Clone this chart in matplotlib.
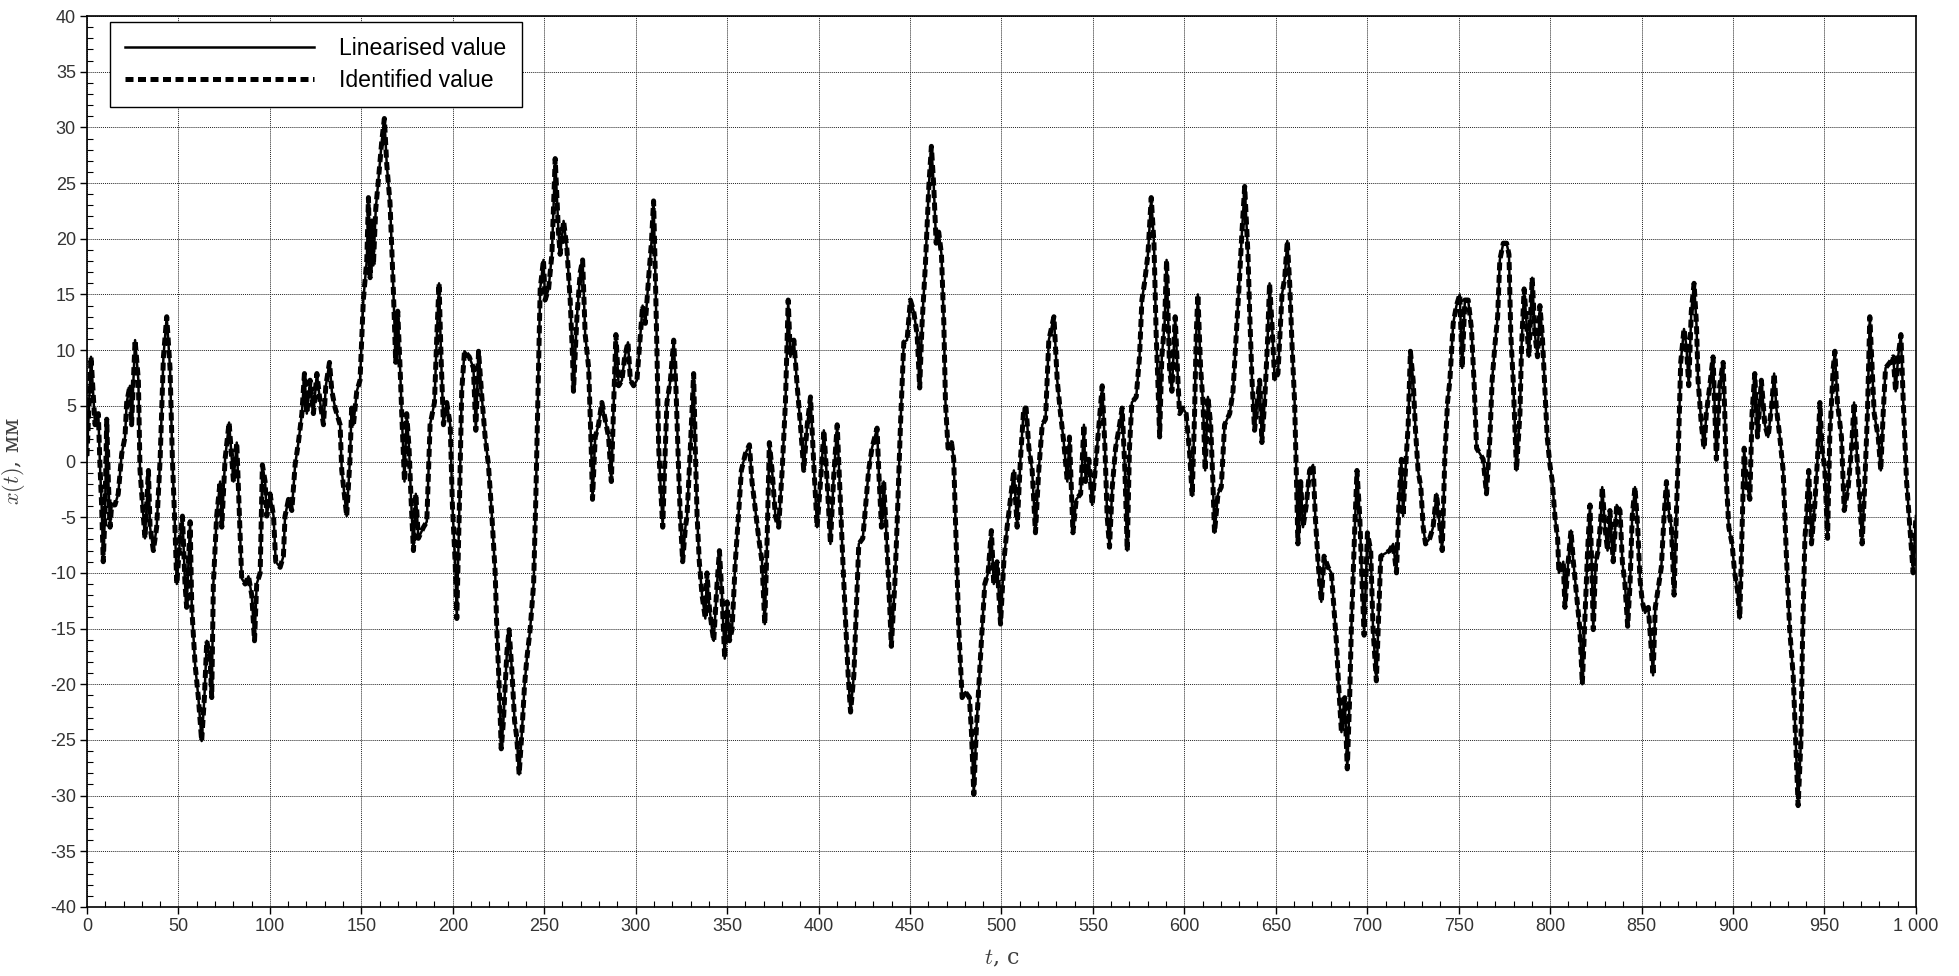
import matplotlib
matplotlib.use('Agg')
import matplotlib.pyplot as plt
import numpy as np
from matplotlib.ticker import MultipleLocator

# time, s  (turning points of the trace)
t = [
    # 0 .. 140
    0, 2.2, 4.4, 6.2, 7.1, 8.0, 8.9, 9.8, 10.8, 11.7,
    12.6, 13.5, 15.3, 17.1, 19.0, 20.8, 21.7, 23.5, 24.4, 26.3,
    28.1, 29.0, 30.8, 31.7, 33.6, 34.5, 36.3, 38.1, 40.0, 41.8,
    43.6, 45.4, 46.7, 48.1, 49.1, 50.9, 52.2, 53.6, 54.5, 56.4,
    57.3, 59.1, 60.9, 62.7, 64.2, 65.5, 67.3, 68.2, 69.1, 70.9,
    72.8, 73.7, 75.5, 77.7, 79.2, 80.1, 81.9, 82.8, 84.6, 86.5,
    88.3, 90.1, 91.6, 92.8, 94.7, 95.9, 97.4, 98.3, 100.1, 102.0,
    103.2, 105.6, 107.4, 108.3, 110.2, 112.0, 113.8, 115.6, 117.5, 118.9,
    120.2, 122.0, 123.8, 125.7, 127.5, 129.3, 130.6, 132.6, 133.9, 135.7,
    138.4, 139.3,
    # 140 .. 282
    142.0, 143.8, 144.7, 145.7, 147.5, 149.3, 151.1, 153.0, 153.9, 154.8,
    155.7, 156.6, 157.9, 159.3, 161.2, 162.6, 163.9, 165.7, 167.5, 168.8,
    169.9, 171.2, 172.1, 173.6, 174.8, 176.1, 177.2, 178.5, 179.8, 181.2,
    184.0, 185.8, 187.6, 190.0, 191.3, 192.5, 193.6, 194.9, 196.7, 198.6,
    199.8, 201.3, 202.2, 203.5, 204.9, 206.4, 209.0, 211.3, 212.6, 214.1,
    215.9, 217.7, 219.5, 221.4, 223.2, 224.1, 225.4, 226.5, 227.7, 229.6,
    230.8, 232.3, 233.8, 235.0, 236.3, 237.8, 239.2, 240.5, 242.3, 244.2,
    245.4, 246.5, 247.8, 249.6, 250.5, 252.4, 254.2, 256.0, 257.8, 258.7,
    260.6, 262.4, 264.2, 265.5, 266.0, 267.9, 269.7, 271.0, 272.4, 274.3,
    275.7, 276.4, 277.9, 279.7, 281.5,
    # 282 .. 425
    285.2, 286.7, 288.0, 289.2, 290.7, 292.5, 294.0, 295.8, 297.1, 298.9,
    300.7, 302.6, 303.8, 305.3, 307.1, 308.6, 309.8, 310.8, 311.7, 312.6,
    313.5, 314.8, 315.9, 317.1, 319.0, 320.8, 322.1, 323.5, 324.4, 325.7,
    327.2, 328.1, 329.9, 331.7, 332.6, 333.6, 334.8, 336.3, 338.1, 339.0,
    340.3, 341.8, 342.7, 344.5, 345.8, 347.2, 348.7, 350.0, 351.3, 352.7,
    354.5, 356.4, 357.8, 360.0, 362.2, 363.6, 365.5, 367.3, 369.1, 370.6,
    371.9, 373.1, 374.6, 376.4, 378.2, 380.1, 381.9, 383.4, 384.6, 386.5,
    388.3, 390.1, 391.9, 393.8, 395.6, 397.4, 399.2, 401.1, 402.9, 404.7,
    406.5, 408.3, 410.2, 412.0, 413.3, 414.7, 416.2, 417.5, 419.3, 420.6,
    422.0, 424.2,
    # 425 .. 568
    427.4, 429.2, 432.0, 432.9, 434.4, 435.6, 436.9, 438.4, 439.8, 441.7,
    442.9, 444.8, 446.6, 448.4, 450.2, 452.0, 453.9, 455.3, 456.6, 458.4,
    460.3, 461.7, 463.0, 464.3, 465.7, 467.2, 468.5, 469.4, 470.8, 472.7,
    473.9, 474.8, 476.7, 478.5, 480.3, 482.5, 483.6, 484.9, 486.2, 487.6,
    489.4, 490.9, 492.7, 494.5, 495.8, 497.6, 499.5, 501.3, 503.1, 504.9,
    506.8, 508.6, 510.4, 512.2, 513.5, 515.0, 516.8, 518.6, 520.4, 522.3,
    524.1, 525.9, 528.7, 530.5, 532.3, 534.1, 536.0, 537.2, 539.1, 540.9,
    543.3, 545.1, 546.0, 547.8, 549.6, 551.5, 553.3, 555.1, 556.6, 557.8,
    559.1, 560.6, 562.4, 564.6, 566.0, 567.5,
    # 568 .. 708
    568.8, 570.0, 571.3, 573.7, 575.5, 576.8, 578.2, 580.1, 581.9, 583.4,
    584.6, 585.5, 586.5, 587.7, 589.2, 590.3, 591.9, 593.2, 595.0, 596.5,
    597.4, 599.2, 601.0, 602.9, 604.3, 605.6, 606.5, 607.4, 608.9, 610.2,
    611.4, 612.9, 614.4, 615.6, 616.5, 618.4, 620.2, 622.0, 624.8, 626.6,
    628.4, 630.2, 631.5, 633.0, 634.8, 635.7, 637.0, 638.4, 639.9, 641.2,
    642.4, 643.9, 645.4, 646.6, 647.9, 649.4, 651.2, 653.4, 654.9, 656.3,
    657.6, 658.9, 660.3, 661.2, 662.1, 663.6, 664.9, 666.7, 668.5, 670.4,
    671.6, 673.1, 674.9, 676.4, 678.6, 680.4, 681.8, 683.1, 684.4, 685.9,
    687.7, 689.1, 690.4, 691.3, 693.2, 694.4, 695.9, 697.2, 698.3, 700.1,
    701.9, 703.2, 705.0, 706.3, 707.4,
    # 708 .. 854
    712.3, 714.2, 716.0, 717.3, 718.7, 719.6, 720.9, 722.4, 723.6, 725.1,
    726.4, 727.8, 729.3, 730.6, 731.9, 734.2, 736.0, 737.9, 739.1, 741.0,
    742.4, 743.9, 745.2, 747.0, 748.8, 750.6, 751.9, 753.4, 755.2, 757.0,
    758.5, 759.8, 761.6, 763.4, 765.2, 767.1, 768.3, 769.8, 771.3, 772.5,
    774.4, 776.2, 777.5, 778.5, 779.8, 780.7, 781.6, 783.5, 784.4, 785.8,
    787.1, 788.4, 790.2, 791.7, 793.1, 794.4, 795.7, 797.2, 798.4, 799.9,
    801.2, 802.6, 804.1, 804.8, 807.2, 808.1, 809.9, 811.4, 812.7, 814.5,
    816.3, 817.6, 819.0, 820.5, 821.8, 822.7, 823.6, 824.9, 826.3, 827.8,
    828.5, 830.0, 831.4, 832.7, 834.5, 836.4, 838.2, 839.5, 840.9, 842.4,
    843.7, 844.9, 846.4, 847.9, 849.1, 850.4, 851.9, 853.7,
    # 854 .. 1000
    856.3, 857.5, 859.0, 860.8, 862.3, 863.6, 864.8, 866.3, 867.8, 869.0,
    869.9, 871.4, 873.2, 874.5, 875.8, 877.2, 878.7, 880.0, 880.9, 882.7,
    884.2, 885.4, 887.3, 889.1, 890.9, 892.7, 894.6, 895.5, 896.4, 897.7,
    899.5, 900.9, 902.4, 903.7, 905.0, 906.1, 907.3, 909.2, 910.4, 911.9,
    913.4, 915.5, 917.4, 919.2, 921.0, 922.5, 923.7, 925.6, 927.4, 929.2,
    931.0, 932.9, 934.1, 935.6, 937.1, 938.0, 939.3, 940.2, 941.4, 942.9,
    944.7, 946.2, 947.5, 948.7, 950.2, 951.7, 952.9, 954.8, 955.7, 957.1,
    959.3, 960.8, 963.0, 964.8, 966.2, 967.5, 969.3, 970.6, 972.1, 973.5,
    974.8, 976.1, 977.2, 979.4, 980.8, 982.1, 983.4, 985.8, 987.6, 988.9,
    990.3, 991.8, 993.1, 994.9, 996.7, 998.5, 1000.0,
]

# x(t), mm - linearised model
x_lin = [
    0.5, 9.4, 3.3, 4.3, -0.3, -3.9, -9.0, -4.9, 3.8, -1.8,
    -5.9, -3.9, -3.9, -2.9, 0.7, 2.2, 5.3, 6.8, 3.3, 10.9,
    7.3, -0.8, -4.9, -6.9, -0.8, -5.9, -8.0, -5.9, 0.2, 9.4,
    13.0, 8.4, 0.2, -5.9, -11.0, -6.9, -4.9, -11.0, -13.1, -5.4,
    -13.1, -18.2, -21.2, -25.1, -21.2, -16.1, -17.7, -21.2, -11.0, -4.9,
    -1.8, -5.9, 0.2, 3.5, 0.2, -1.8, 1.7, -2.3, -10.5, -11.0,
    -10.3, -12.0, -16.1, -11.0, -10.0, -0.3, -1.8, -4.9, -2.9, -4.9,
    -9.0, -9.5, -8.5, -4.9, -3.4, -4.4, -0.3, 1.7, 4.3, 7.9,
    4.3, 7.3, 4.3, 7.9, 5.3, 3.3, 6.8, 8.9, 6.3, 4.8,
    3.3, -0.8,

    -4.9, 0.2, 4.8, 3.3, 6.3, 7.3, 14.5, 18.1, 23.7, 16.5,
    21.6, 17.6, 22.7, 25.2, 28.8, 30.8, 26.7, 23.2, 15.5, 8.9,
    13.5, 8.4, 4.3, -1.8, 4.3, 1.2, -3.4, -8.0, -2.9, -6.9,
    -5.9, -5.4, 3.3, 5.3, 11.4, 16.0, 9.4, 3.3, 5.3, 3.3,
    -3.9, -9.0, -14.1, -4.9, 6.3, 9.9, 9.4, 8.4, 2.8, 9.9,
    5.8, 2.2, -0.3, -4.9, -10.0, -15.1, -20.2, -25.8, -23.3, -17.1,
    -15.1, -18.7, -23.3, -24.8, -28.1, -24.3, -20.2, -17.7, -15.1, -11.0,
    -3.4, 5.3, 15.5, 18.1, 14.5, 15.5, 18.6, 27.2, 20.6, 18.6,
    21.6, 19.1, 14.5, 9.4, 6.3, 13.0, 17.0, 18.1, 11.4, 8.4,
    1.2, -3.4, 2.2, 3.3, 5.3,

    2.2, -1.8, 5.3, 11.4, 6.8, 7.3, 9.4, 10.7, 7.3, 6.8,
    7.3, 11.4, 14.0, 12.4, 16.5, 19.6, 23.4, 16.5, 9.4, 1.2,
    -1.8, -5.9, -0.3, 5.3, 7.3, 10.9, 6.3, -0.8, -4.9, -9.0,
    -5.9, -4.9, 1.2, 7.9, 1.2, -4.9, -9.0, -12.0, -14.1, -10.0,
    -13.1, -15.1, -16.1, -11.0, -8.0, -12.0, -17.7, -12.6, -16.1, -15.1,
    -9.0, -4.4, -0.8, 0.7, 1.5, -1.8, -4.4, -6.9, -9.0, -14.6,
    -6.9, 1.7, -0.8, -4.9, -5.9, -0.8, 5.3, 14.5, 9.4, 10.9,
    6.8, 3.3, -0.8, 3.3, 5.8, -0.3, -5.9, -1.8, 2.8, -1.8,
    -7.4, -1.3, 3.3, -3.9, -9.0, -14.1, -19.2, -22.5, -19.2, -13.6,
    -7.4, -6.9,

    -0.8, 1.2, 3.0, -0.8, -5.9, -1.8, -5.9, -11.0, -16.6, -11.0,
    -5.9, 3.3, 10.7, 10.9, 14.5, 13.5, 11.4, 6.6, 12.4, 17.6,
    24.7, 28.3, 24.7, 19.6, 20.6, 18.6, 12.4, 5.3, 1.2, 1.7,
    0.2, -4.9, -15.1, -21.2, -20.7, -21.2, -24.3, -29.9, -24.3, -20.2,
    -15.1, -11.0, -10.0, -6.2, -11.0, -9.0, -14.6, -9.0, -5.9, -3.4,
    -0.8, -5.9, 0.2, 4.8, 4.8, 1.2, -0.8, -6.4, -0.8, 3.3,
    3.8, 10.9, 13.0, 7.3, 4.3, 1.7, -1.8, 2.2, -6.4, -3.4,
    -2.9, 3.3, -1.8, 0.2, -3.9, -0.3, 3.3, 6.8, 1.2, -4.9,
    -7.7, -2.3, 1.2, 3.3, 4.8, -0.8,

    -8.0, 1.2, 5.3, 5.8, 9.4, 14.5, 16.0, 18.6, 23.7, 19.6,
    11.4, 7.3, 2.2, 9.4, 12.4, 18.1, 8.4, 6.3, 13.0, 7.3,
    4.3, 4.8, 4.3, 0.7, -3.1, 4.3, 11.4, 15.0, 8.4, 5.3,
    -0.8, 5.8, 3.3, -1.8, -6.4, -2.9, -2.3, 3.3, 4.3, 6.3,
    11.4, 16.5, 20.6, 24.7, 18.6, 13.5, 7.3, 2.8, 5.3, 7.3,
    1.7, 5.3, 10.4, 16.0, 12.4, 7.3, 7.9, 15.0, 16.5, 19.8,
    16.0, 10.4, 5.3, -0.8, -7.4, -1.8, -5.9, -3.9, -0.8, -0.3,
    -4.9, -9.0, -12.6, -8.5, -9.5, -10.0, -13.1, -16.1, -20.2, -24.3,
    -21.2, -27.6, -21.2, -15.1, -5.9, -0.8, -4.9, -11.0, -15.6, -6.4,
    -8.0, -15.1, -19.7, -13.6, -8.5,

    -8.0, -7.4, -10.0, -3.9, 0.2, -4.9, -0.8, 3.3, 9.9, 7.3,
    2.8, -0.8, -2.3, -5.9, -7.4, -6.9, -5.9, -2.9, -4.9, -8.0,
    0.2, 5.3, 7.3, 12.4, 14.0, 15.0, 8.4, 14.5, 14.5, 11.9,
    6.8, 1.2, 0.7, 0.2, -2.9, 2.2, 7.3, 10.4, 13.0, 18.1,
    19.6, 19.6, 18.6, 11.4, 7.3, 3.3, -0.8, 4.3, 10.4, 15.5,
    12.4, 9.4, 16.5, 11.4, 9.4, 14.0, 11.4, 6.3, 2.2, -0.3,
    -1.8, -4.9, -6.9, -10.0, -9.0, -13.1, -9.0, -6.2, -9.0, -12.0,
    -15.1, -20.0, -14.1, -8.0, -3.9, -9.0, -15.1, -9.0, -8.0, -4.9,
    -2.3, -5.9, -8.0, -4.4, -9.0, -3.9, -4.4, -9.0, -11.0, -14.8,
    -11.0, -4.9, -2.3, -5.9, -10.5, -12.6, -13.6, -13.1,

    -19.2, -13.1, -11.5, -9.5, -4.9, -1.8, -4.4, -5.9, -12.0, -4.9,
    -0.3, 8.9, 11.9, 10.4, 6.8, 13.5, 16.0, 12.4, 7.3, 3.3,
    1.2, 4.3, 6.8, 9.4, 0.2, 6.8, 8.9, 4.3, -1.8, -5.9,
    -7.4, -10.0, -11.5, -14.1, -5.9, 1.2, -1.8, -3.4, 4.3, 7.9,
    2.2, 7.3, 3.3, 2.2, 4.8, 7.9, 4.8, 2.2, -0.8, -8.5,
    -15.1, -19.2, -24.3, -30.9, -25.3, -16.1, -6.9, -4.9, -0.8, -7.4,
    -3.9, 0.2, 5.3, 1.2, -0.8, -6.9, 2.2, 8.4, 9.9, 5.3,
    2.2, -4.4, -2.3, 1.2, 5.3, 1.2, -3.4, -7.4, -1.8, 4.3,
    13.0, 8.4, 4.3, 2.2, -0.8, 4.3, 8.4, 8.9, 9.4, 6.3,
    9.4, 11.4, 5.3, -1.8, -5.9, -10.0, -4.9,
]

# identified model lies on top of the linearised one
x_id = list(x_lin)

xtick_vals = list(range(0, 1001, 50))
xtick_labels = [str(v) if v < 1000 else '1 000' for v in xtick_vals]
ytick_vals = list(range(-40, 41, 5))

plt.rcParams['mathtext.fontset'] = 'cm'
plt.rcParams['axes.unicode_minus'] = False

fig = plt.figure(figsize=(19.59, 9.76), dpi=100)
ax = fig.add_axes([0.0444, 0.0707, 0.9336, 0.9129])

ax.plot(t, x_lin, '-', color='k', lw=1.8, label='Linearised value', zorder=3)
ax.plot(t, x_id, '--', color='k', lw=3.6, dashes=(1.6, 0.9), label='Identified value', zorder=4)

ax.set_xlim(0, 1000)
ax.set_ylim(-40, 40)
ax.set_xticks(xtick_vals)
ax.set_xticklabels(xtick_labels)
ax.set_yticks(ytick_vals)
ax.xaxis.set_minor_locator(MultipleLocator(10))
ax.yaxis.set_minor_locator(MultipleLocator(1))

ax.tick_params(which='major', direction='out', length=5, width=1.0, color='k',
               labelsize=13, labelcolor='#333333', pad=3)
ax.tick_params(which='minor', direction='in', length=4, width=0.8, color='k')
for lbl in ax.get_xticklabels() + ax.get_yticklabels():
    lbl.set_family('Liberation Sans')

ax.grid(True, which='major', linestyle=(0, (1, 1)), color='#222222', lw=0.7)
ax.set_axisbelow(True)
for sp in ax.spines.values():
    sp.set_linewidth(1.2)

ax.set_xlabel(r'$t$, с', fontsize=16, color='#404040', family='DejaVu Serif')
ax.set_ylabel(r'$x(t)$, мм', fontsize=16, color='#404040', family='DejaVu Serif')
ax.xaxis.set_label_coords(0.5, -0.045)
ax.yaxis.set_label_coords(-0.033, 0.5)

leg = ax.legend(loc='upper left', bbox_to_anchor=(0.0126, 0.993), borderaxespad=0,
                prop={'family': 'Liberation Sans', 'size': 16.6}, handlelength=8.2,
                handletextpad=1.1, labelspacing=0.4, borderpad=0.65,
                fancybox=False, edgecolor='k', framealpha=1)
leg.get_frame().set_linewidth(1.0)

fig.savefig('out.png', dpi=100)
